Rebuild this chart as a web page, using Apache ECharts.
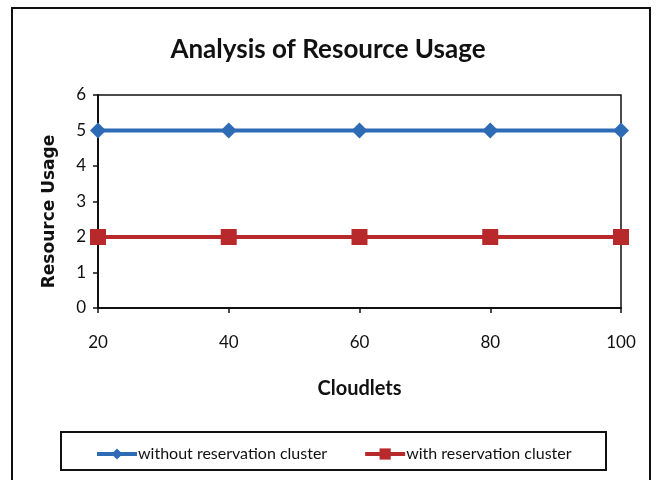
<!DOCTYPE html>
<html><head><meta charset="utf-8">
<script src="https://cdn.jsdelivr.net/npm/echarts@6/dist/echarts.min.js"></script>
<style>html,body{margin:0;padding:0;background:#fff}#c{width:656px;height:480px}</style>
</head><body><div id="c"></div>
<script>
const categories = ['20', '40', '60', '80', '100'];
const withoutReservation = [5, 5, 5, 5, 5];
const withReservation = [2, 2, 2, 2, 2];
const seriesNames = ['without reservation cluster', 'with reservation cluster'];
const titleText = 'Analysis of Resource Usage';
const xName = 'Cloudlets';
const yName = 'Resource Usage';

const F = 'Lato, "Open Sans", sans-serif';
const chart = echarts.init(document.getElementById('c'));
chart.setOption({
  animation: false,
  backgroundColor: '#fff',
  title: {
    text: titleText, left: 'center', top: 32,
    textStyle: { fontFamily: F, fontWeight: 'bold', fontSize: 26, color: '#111' }
  },
  graphic: [
    { type: 'rect', shape: { x: 12, y: 8, width: 638, height: 490 }, style: { fill: 'none', stroke: '#111', lineWidth: 2 }, z: 100 },
    { type: 'rect', shape: { x: 61, y: 432, width: 545, height: 38 }, style: { fill: 'none', stroke: '#111', lineWidth: 2 }, z: 100 }
  ],
  grid: { left: 98, right: 35, top: 95, bottom: 172, show: true, borderColor: '#111', borderWidth: 1.5 },
  legend: {
    data: seriesNames, top: 441, left: 90, itemGap: 36, itemWidth: 40, itemHeight: 14,
    lineStyle: { width: 4 },
    textStyle: { fontFamily: F, fontSize: 16, color: '#111', padding: [0, 0, 0, -4] }
  },
  xAxis: {
    type: 'category', data: categories, boundaryGap: false,
    name: xName, nameLocation: 'middle', nameGap: 71,
    nameTextStyle: { fontFamily: F, fontWeight: 'bold', fontSize: 20, color: '#111' },
    axisLine: { lineStyle: { color: '#111', width: 2 } },
    axisTick: { show: true, length: 5, alignWithLabel: true, lineStyle: { color: '#111', width: 1.5 } },
    axisLabel: { margin: 26, fontFamily: F, fontSize: 17, color: '#111' },
    splitLine: { show: false }
  },
  yAxis: {
    type: 'value', min: 0, max: 6, interval: 1,
    name: yName, nameLocation: 'middle', nameGap: 40,
    nameTextStyle: { fontFamily: '"DejaVu Sans", sans-serif', fontWeight: 'bold', fontSize: 17, color: '#111', padding: [0, 20, 0, 0] },
    axisLine: { show: true, lineStyle: { color: '#111', width: 2 } },
    axisTick: { show: true, length: 5, lineStyle: { color: '#111', width: 1.5 } },
    axisLabel: { margin: 12, fontFamily: F, fontSize: 17, color: '#111' },
    splitLine: { show: false }
  },
  series: [
    { name: seriesNames[0], type: 'line', data: withoutReservation, symbol: 'diamond', symbolSize: 16,
      lineStyle: { color: '#2E6BB5', width: 4 }, itemStyle: { color: '#2E6BB5' } },
    { name: seriesNames[1], type: 'line', data: withReservation, symbol: 'rect', symbolSize: 16,
      lineStyle: { color: '#B8292B', width: 4 }, itemStyle: { color: '#B8292B' } }
  ]
});
</script></body></html>
